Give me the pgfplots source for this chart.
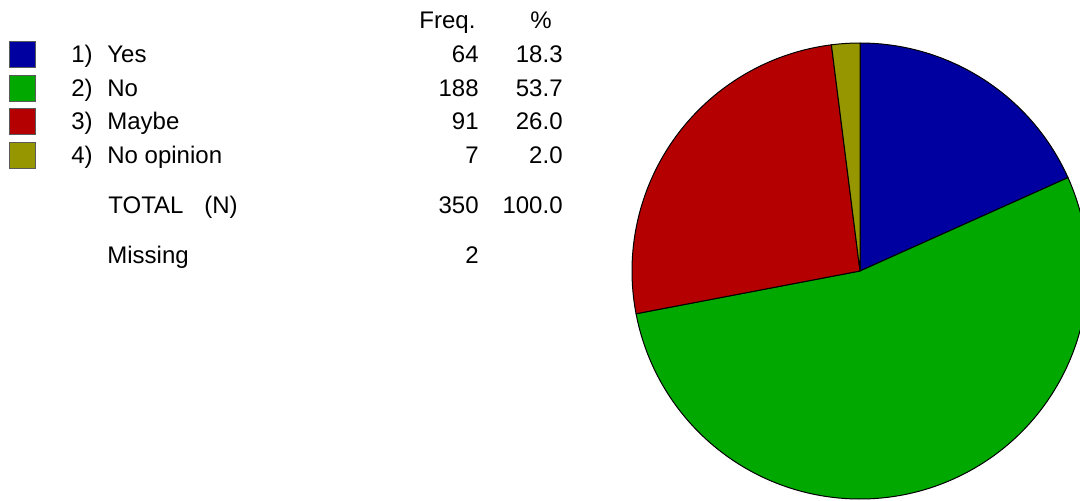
\documentclass[border=0pt]{standalone}
\usepackage{fontspec}
\setmainfont{Liberation Sans}
\usepackage{pgfplots}
\pgfplotsset{compat=1.18}
\definecolor{pieblue}{RGB}{0,0,160}
\definecolor{piegreen}{RGB}{0,168,0}
\definecolor{piered}{RGB}{180,0,0}
\definecolor{pieolive}{RGB}{150,150,0}
\definecolor{boxline}{RGB}{90,90,90}

% pixel coordinates of the reference (1px = 0.5pt)
% slice from cumulative count #1 to #2 out of 350
\newcommand{\slice}[3]{%
  \draw[fill=#3,draw=black,line width=0.5pt] (axis cs:860,271)
    -- ++({90-#1/350*360}:114pt)
    arc[start angle={90-#1/350*360},end angle={90-#2/350*360},radius=114pt]
    -- cycle;}

\begin{document}
\begin{tikzpicture}[every node/.style={inner sep=0pt,font=\fontsize{12}{14}\selectfont}]
\begin{axis}[
scale only axis,width=540pt,height=250pt,
xmin=0,xmax=1080,ymin=0,ymax=500,
y dir=reverse,hide axis,clip=true]
% pie: Yes 64, No 188, Maybe 91, No opinion 7 (N = 350)
\slice{0}{64}{pieblue}
\slice{64}{252}{piegreen}
\slice{252}{343}{piered}
\slice{343}{350}{pieolive}
% legend boxes
\addplot[only marks,mark=square*,mark size=6.5pt,mark options={fill=pieblue,draw=boxline,line width=0.4pt}] coordinates {(22.5,54.2)};
\addplot[only marks,mark=square*,mark size=6.5pt,mark options={fill=piegreen,draw=boxline,line width=0.4pt}] coordinates {(22.5,87.9)};
\addplot[only marks,mark=square*,mark size=6.5pt,mark options={fill=piered,draw=boxline,line width=0.4pt}] coordinates {(22.5,121.5)};
\addplot[only marks,mark=square*,mark size=6.5pt,mark options={fill=pieolive,draw=boxline,line width=0.4pt}] coordinates {(22.5,155.2)};
% header
\node[anchor=base west] at (axis cs:419,28.3) {Freq.};
\node[anchor=base] at (axis cs:541,28.3) {\%};
% rows
\node[anchor=base west] at (axis cs:71,62.3) {1)};
\node[anchor=base west] at (axis cs:107,62.3) {Yes};
\node[anchor=base east] at (axis cs:479,62.3) {64};
\node[anchor=base east] at (axis cs:563,62.3) {18.3};
\node[anchor=base west] at (axis cs:71,96) {2)};
\node[anchor=base west] at (axis cs:107,96) {No};
\node[anchor=base east] at (axis cs:479,96) {188};
\node[anchor=base east] at (axis cs:563,96) {53.7};
\node[anchor=base west] at (axis cs:71,129.7) {3)};
\node[anchor=base west] at (axis cs:107,129.7) {Maybe};
\node[anchor=base east] at (axis cs:479,129.7) {91};
\node[anchor=base east] at (axis cs:563,129.7) {26.0};
\node[anchor=base west] at (axis cs:71,163.3) {4)};
\node[anchor=base west] at (axis cs:107,163.3) {No opinion};
\node[anchor=base east] at (axis cs:479,163.3) {7};
\node[anchor=base east] at (axis cs:563,163.3) {2.0};
\node[anchor=base west] at (axis cs:108,213.3) {TOTAL};
\node[anchor=base west] at (axis cs:204,213.3) {(N)};
\node[anchor=base east] at (axis cs:479,213.3) {350};
\node[anchor=base east] at (axis cs:563,213.3) {100.0};
\node[anchor=base west] at (axis cs:107,263.3) {Missing};
\node[anchor=base east] at (axis cs:479,263.3) {2};
\end{axis}
\pgfresetboundingbox
\useasboundingbox (current axis.south west) rectangle (current axis.north east);
\end{tikzpicture}
\end{document}
